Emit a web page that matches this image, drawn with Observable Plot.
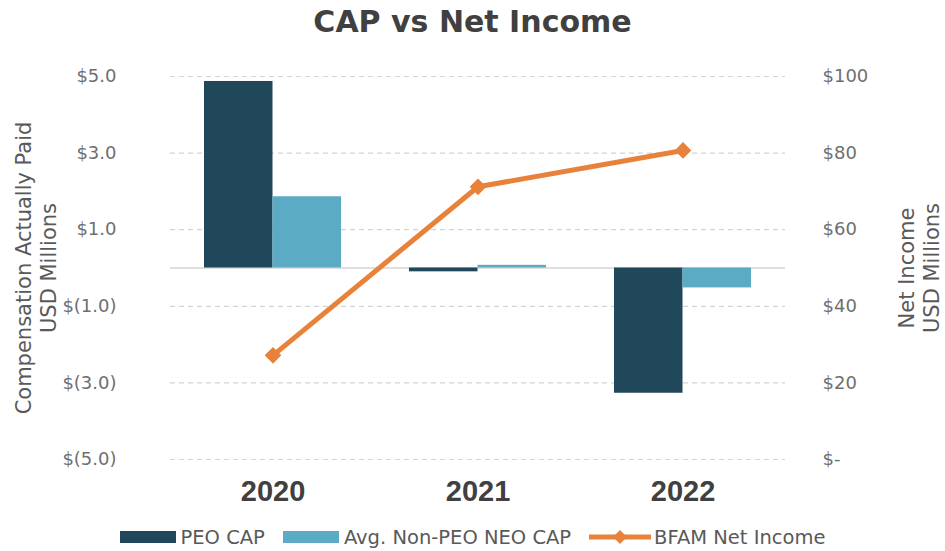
<!DOCTYPE html>
<html>
<head>
<meta charset="utf-8">
<script src="https://cdn.jsdelivr.net/npm/d3@7"></script>
<script src="https://cdn.jsdelivr.net/npm/@observablehq/plot@0.6"></script>
<style>
  html, body { margin: 0; padding: 0; background: #fff; }
  #wrap { width: 945px; height: 551px; overflow: hidden; }
  #title { height: 44px; line-height: 44px; text-align: center; font-family: "DejaVu Sans", sans-serif; font-weight: bold; font-size: 30px; color: #404040; }
  #legend { height: 46px; display: flex; justify-content: center; align-items: center; font-family: "DejaVu Sans", sans-serif; font-size: 19.5px; color: #595959; }
  .item { display: flex; align-items: center; margin: 0 9px; }
  .sw { width: 56px; height: 12px; margin-right: 5px; }
  .ln { width: 62px; height: 14px; margin-right: 3px; }
</style>
</head>
<body>
<div id="wrap">
  <div id="title">CAP vs Net Income</div>
  <div id="chart"></div>
  <div id="legend"></div>
</div>
<script>
const years = ["2020", "2021", "2022"];
const peoCap = [4.87, -0.10, -3.27];
const neoCap = [1.86, 0.07, -0.52];
const netIncome = [27.2, 71.2, 80.7];
const capTicks = [-5, -3, -1, 1, 3, 5];
const capTickLabels = ["$(5.0)", "$(3.0)", "$(1.0)", "$1.0", "$3.0", "$5.0"];
const niTicks = [0, 20, 40, 60, 80, 100];
const niTickLabels = ["$-", "$20", "$40", "$60", "$80", "$100"];
const seriesNames = ["PEO CAP", "Avg. Non-PEO NEO CAP", "BFAM Net Income"];
const seriesColors = ["#21475B", "#5BABC4", "#E8823A"];
const leftTitle = "Compensation Actually Paid\nUSD Millions";
const rightTitle = "Net Income\nUSD Millions";

// map net income (0..100) onto the CAP axis (-5..5)
const niToCap = v => (v - 50) / 10;

const rows = years.map((year, i) => ({year, peo: peoCap[i], neo: neoCap[i], ni: netIncome[i]}));

const chart = Plot.plot({
  width: 945,
  height: 470,
  marginLeft: 170,
  marginRight: 160,
  marginTop: 32,
  marginBottom: 55,
  style: {fontFamily: "DejaVu Sans, sans-serif", fontSize: "18px", color: "#6f6f6f", background: "#fff"},
  x: {type: "band", domain: years, padding: 0, axis: null},
  y: {domain: [-5, 5], axis: null},
  marks: [
    Plot.gridY(capTicks, {stroke: "#d4d4d4", strokeOpacity: 1, strokeDasharray: "5,4", strokeWidth: 1.2}),
    Plot.ruleY([0], {stroke: "#d4d4d4", strokeWidth: 1.5}),
    Plot.barY(rows, {x: "year", y: "peo", fill: seriesColors[0], insetLeft: 34, insetRight: 102.5}),
    Plot.barY(rows, {x: "year", y: "neo", fill: seriesColors[1], insetLeft: 102.5, insetRight: 34}),
    Plot.line(rows, {x: "year", y: d => niToCap(d.ni), stroke: seriesColors[2], strokeWidth: 5}),
    Plot.dot(rows, {x: "year", y: d => niToCap(d.ni), symbol: "diamond2", r: 7.5, fill: seriesColors[2], stroke: "none"}),
    Plot.axisY(capTicks, {anchor: "left", tickSize: 0, tickPadding: 54, fill: "#6f6f6f", fontSize: 18,
      tickFormat: d => capTickLabels[capTicks.indexOf(d)], label: null}),
    Plot.axisY(niTicks.map(niToCap), {anchor: "right", tickSize: 0, tickPadding: 37, fill: "#6f6f6f", fontSize: 18, textAnchor: "start",
      tickFormat: d => niTickLabels[niTicks.indexOf(Math.round(d * 10 + 50))], label: null}),
    Plot.axisX({anchor: "bottom", tickSize: 0, tickPadding: 21, fill: "#404040", fontSize: 29, fontWeight: "bold",
      fontFamily: "Liberation Sans, Arial, sans-serif", label: null}),
    Plot.text([leftTitle], {text: d => d, frameAnchor: "left", dx: -135, rotate: -90, fontSize: 21, lineHeight: 1.19, fill: "#595959", textAnchor: "middle", lineAnchor: "middle"}),
    Plot.text([rightTitle], {text: d => d, frameAnchor: "right", dx: 133, rotate: -90, fontSize: 21, lineHeight: 1.2, fill: "#595959", textAnchor: "middle", lineAnchor: "middle"})
  ]
});
document.getElementById("chart").appendChild(chart);

// legend
const legend = document.getElementById("legend");
seriesNames.forEach((name, i) => {
  const item = document.createElement("div");
  item.className = "item";
  if (i < 2) {
    const sw = document.createElement("div");
    sw.className = "sw";
    sw.style.background = seriesColors[i];
    item.appendChild(sw);
  } else {
    const ns = "http://www.w3.org/2000/svg";
    const s = document.createElementNS(ns, "svg");
    s.setAttribute("width", 62); s.setAttribute("height", 14);
    s.setAttribute("class", "ln");
    const l = document.createElementNS(ns, "line");
    l.setAttribute("x1", 0); l.setAttribute("x2", 62); l.setAttribute("y1", 7); l.setAttribute("y2", 7);
    l.setAttribute("stroke", seriesColors[i]); l.setAttribute("stroke-width", 5);
    s.appendChild(l);
    const p = document.createElementNS(ns, "path");
    p.setAttribute("d", "M31,0L38,7L31,14L24,7Z");
    p.setAttribute("fill", seriesColors[i]);
    s.appendChild(p);
    item.appendChild(s);
  }
  const t = document.createElement("span");
  t.textContent = name;
  item.appendChild(t);
  legend.appendChild(item);
});
</script>
</body>
</html>
